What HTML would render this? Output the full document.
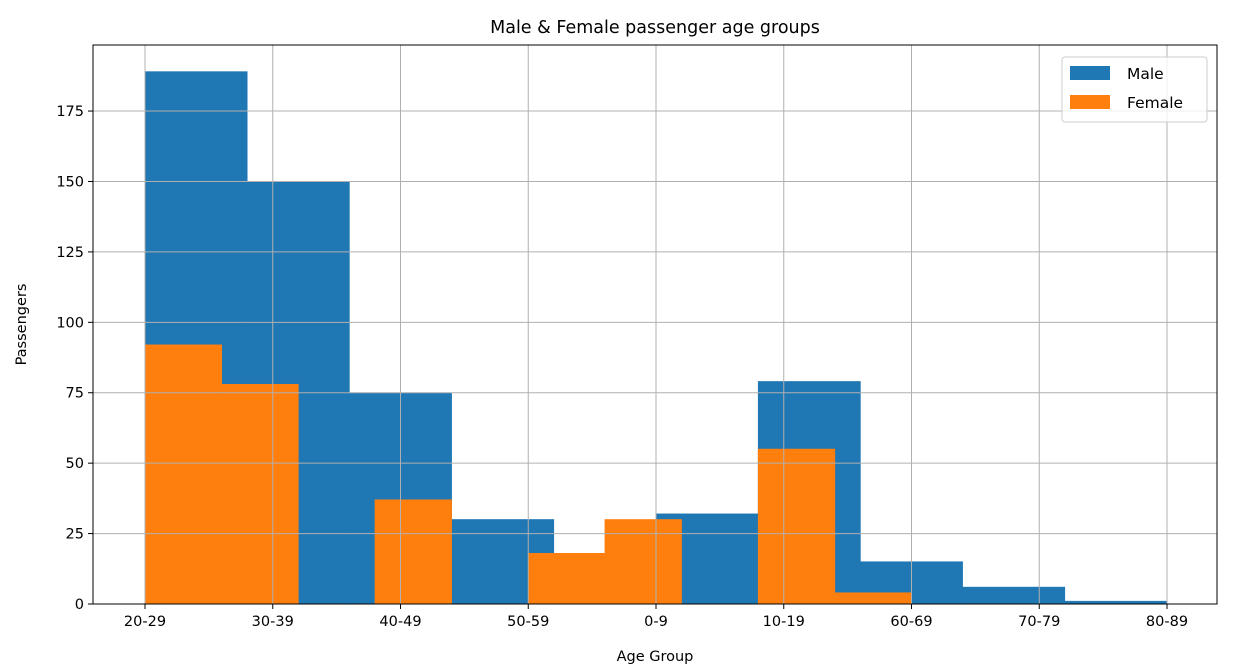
<!DOCTYPE html>
<html><head><meta charset="utf-8"><style>
body{margin:0;background:#fff;font-family:"Liberation Sans","DejaVu Sans",sans-serif}
svg text{font-family:"DejaVu Sans","Liberation Sans",sans-serif}
</style></head><body>
<svg id="chart" width="1255" height="667" xmlns="http://www.w3.org/2000/svg"></svg>
<script>
const categories=["20-29","30-39","40-49","50-59","0-9","10-19","60-69","70-79","80-89"];
const maleCounts=[189,150,75,30,0,32,79,15,6,1];
const maleRange=[0,8];
const femaleCounts=[92,78,0,37,0,18,30,0,55,4];
const femaleRange=[0,6];
const yTicks=[0,25,50,75,100,125,150,175];
const yMax=198.45;
const L=93,R=1217,T=45,B=604;
const x0=145,x8=1167;
const xs=v=>x0+(x8-x0)*v/8;
const ys=v=>B-(B-T)*v/yMax;
const svg=document.getElementById('chart');
const NS='http://www.w3.org/2000/svg';
function el(t,a,p){const e=document.createElementNS(NS,t);for(const k in a)e.setAttribute(k,a[k]);(p||svg).appendChild(e);return e;}
function bars(counts,range,color,name){
  const w=(range[1]-range[0])/counts.length;
  counts.forEach((c,i)=>{if(!c)return;
    const a=xs(range[0]+i*w),b=xs(range[0]+(i+1)*w);
    const r=el('rect',{x:a,y:ys(c),width:b-a,height:ys(0)-ys(c),fill:color,stroke:color,'stroke-width':0.6});
    
    
  });
}
bars(maleCounts,maleRange,'#1f77b4','male');
bars(femaleCounts,femaleRange,'#ff7f0e','female');
categories.forEach((c,i)=>{
  const x=xs(i);
  const g=el('line',{x1:x,x2:x,y1:T,y2:B,stroke:'#b0b0b0','stroke-width':1});
  
  
  el('line',{x1:x,x2:x,y1:B,y2:B+5,stroke:'#000'});
  const t=el('text',{x:x,y:B+22,'text-anchor':'middle','font-size':14.5,fill:'#000'});
  t.textContent=c;
  
  
});
yTicks.forEach(v=>{
  const y=ys(v);
  const g=el('line',{x1:L,x2:R,y1:y,y2:y,stroke:'#b0b0b0','stroke-width':1});
  
  
  el('line',{x1:L-5,x2:L,y1:y,y2:y,stroke:'#000'});
  const t=el('text',{x:L-9,y:y+5,'text-anchor':'end','font-size':14.5,fill:'#000'});
  t.textContent=v;
  
  
});
const fr=el('rect',{x:L,y:T,width:R-L,height:B-T,fill:'none',stroke:'#000','stroke-width':1});


const title=el('text',{x:(L+R)/2,y:33,'text-anchor':'middle','font-size':17.5});
title.textContent='Male & Female passenger age groups';


const xt=el('text',{x:(L+R)/2,y:661,'text-anchor':'middle','font-size':14.5});
xt.textContent='Age Group';


const yt=el('text',{x:0,y:0,'text-anchor':'middle','font-size':14.5,transform:'translate(26,'+((T+B)/2)+') rotate(-90)'});
yt.textContent='Passengers';


const lg=el('g',{});


el('rect',{x:1062,y:57,width:145,height:65,rx:3,fill:'#fff','fill-opacity':0.8,stroke:'#ccc'},lg);
[['Male','#1f77b4',66],['Female','#ff7f0e',95]].forEach(([n,c,y])=>{
  const s=el('rect',{x:1070,y:y,width:40,height:14,fill:c},lg);
  
  
  const t=el('text',{x:1127,y:y+13,'font-size':15.5},lg);
  t.textContent=n;
  
  
});
</script>
</body></html>
